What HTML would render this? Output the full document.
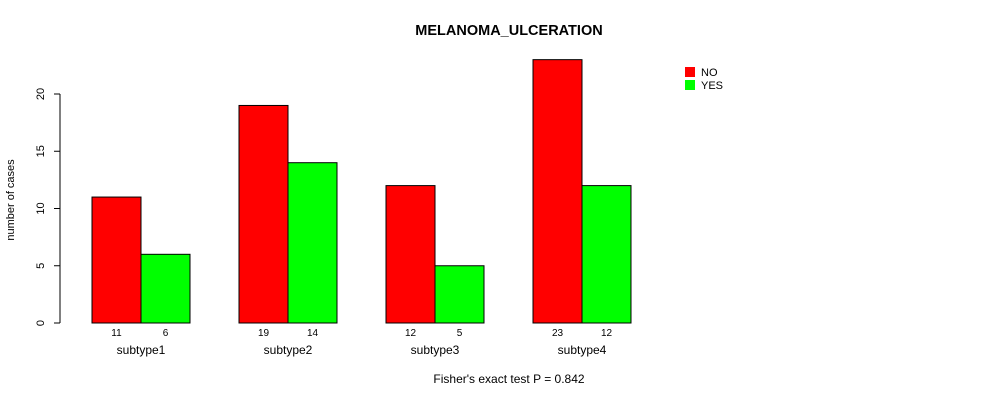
<!DOCTYPE html>
<html><head><meta charset="utf-8"><style>
html,body{margin:0;padding:0;background:#fff;}
svg{display:block;font-family:"Liberation Sans",Arial,sans-serif;}
</style></head><body>
<svg id="chart" width="990" height="400" viewBox="0 0 990 400">
<text x="509" y="35" text-anchor="middle" font-size="14.5" font-weight="bold">MELANOMA_ULCERATION</text>
<text transform="translate(14,200) rotate(-90)" text-anchor="middle" font-size="11">number of cases</text>
<text x="509" y="383" text-anchor="middle" font-size="12">Fisher's exact test P = 0.842</text>
<g id="yaxis"></g>
<g id="bars"></g>
<g>
<rect x="685" y="67" width="10" height="10" fill="#ff0000"/>
<text x="701" y="76" font-size="11">NO</text>
<rect x="685" y="80" width="10" height="10" fill="#00ff00"/>
<text x="701" y="89" font-size="11">YES</text>
</g>
</svg>
<script>
const categories = ["subtype1","subtype2","subtype3","subtype4"];
const noValues = [11,19,12,23];
const yesValues = [6,14,5,12];
const yTicks = [0,5,10,15,20];
const seriesColors = ["#ff0000","#00ff00"];
const NS="http://www.w3.org/2000/svg";
function y(v){return 323 - v*(229/20);}
function gx(i){return 92 + i*147;}
const bw=49;
function mk(tag,attrs,parent){const e=document.createElementNS(NS,tag);for(const k in attrs)e.setAttribute(k,attrs[k]);parent.appendChild(e);return e;}
const ya=document.getElementById('yaxis');
let l=mk('line',{x1:60,x2:60,y1:y(yTicks[0]),y2:y(yTicks[yTicks.length-1]),stroke:'#000'},ya);


yTicks.forEach(t=>{
  const tk=mk('line',{x1:54,x2:60,y1:y(t),y2:y(t),stroke:'#000'},ya);
  
  
  const tx=mk('text',{transform:`translate(44,${y(t)}) rotate(-90)`,'text-anchor':'middle','font-size':11},ya);
  tx.textContent=t;
  
  
});
const bg=document.getElementById('bars');
categories.forEach((c,i)=>{
  [noValues[i],yesValues[i]].forEach((v,j)=>{
    const x=gx(i)+j*bw;
    const r=mk('rect',{x:x,y:y(v),width:bw,height:y(0)-y(v),fill:seriesColors[j],stroke:'#000'},bg);
    
    
    const t=mk('text',{x:x+bw/2,y:336,'text-anchor':'middle','font-size':10},bg);
    t.textContent=v;
    
    
  });
  const cl=mk('text',{x:gx(i)+bw,y:354,'text-anchor':'middle','font-size':12},bg);
  cl.textContent=c;
  
  
});
</script>
</body></html>
